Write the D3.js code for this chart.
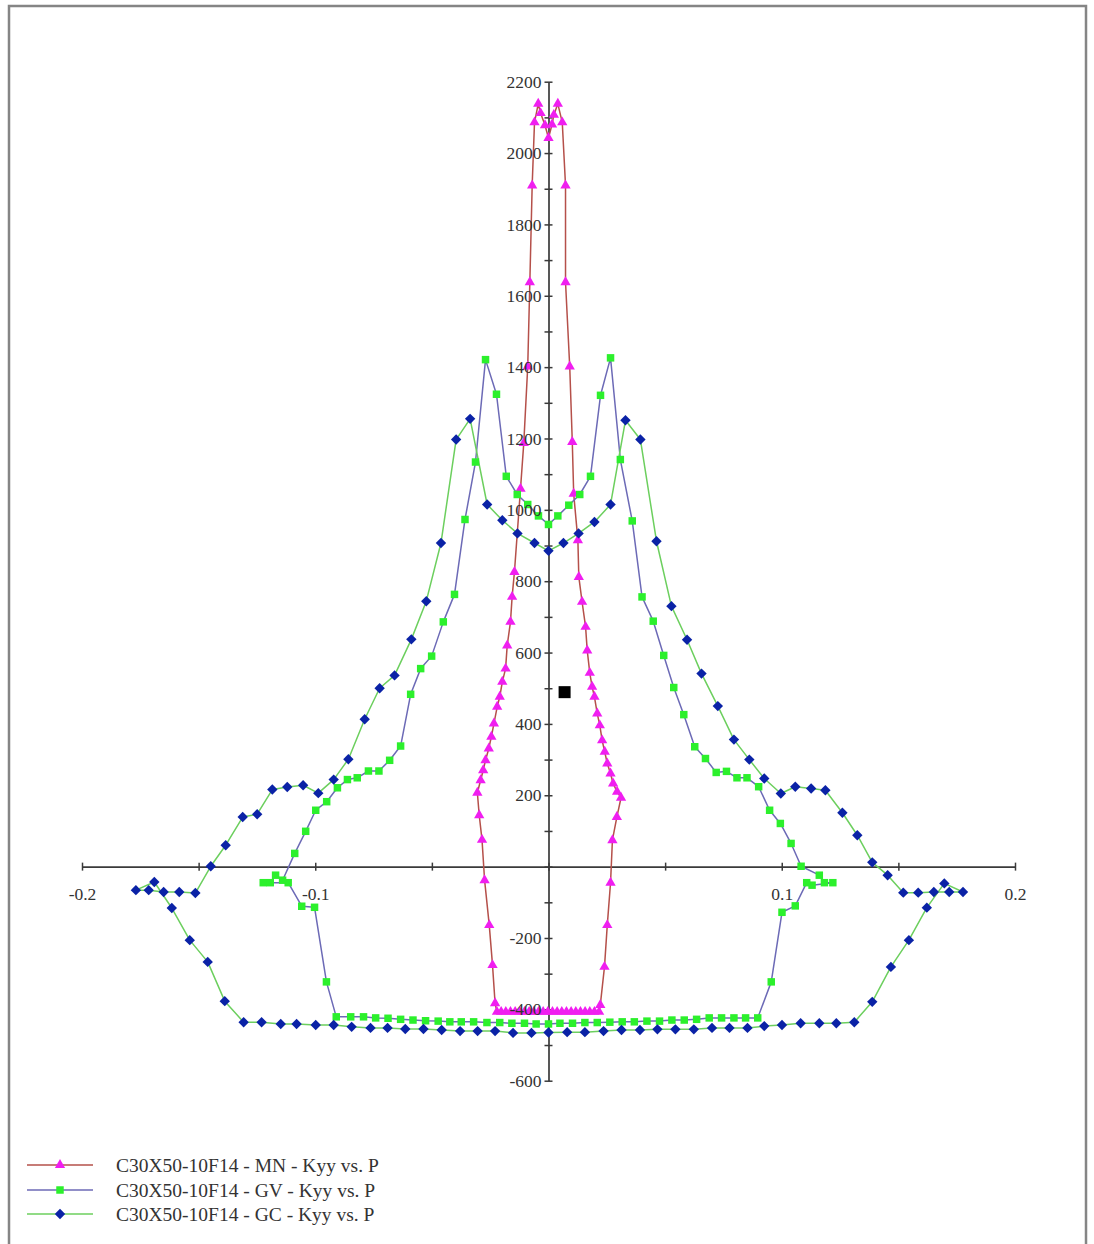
<!DOCTYPE html>
<html>
<head>
<meta charset="utf-8">
<script src="https://cdn.jsdelivr.net/npm/d3@7"></script>
<style>
  html, body { margin: 0; padding: 0; background: #ffffff; }
  svg { display: block; }
  text { font-family: "Liberation Serif", "Times New Roman", serif; }
</style>
</head>
<body>
<svg id="chart" width="1094" height="1244"></svg>
<script>
// ---- Axis ticks -------------------------------------------------------
const xTicks = [-0.2, -0.15, -0.1, -0.05, 0, 0.05, 0.1, 0.15, 0.2];
const xTickLabels = ["-0.2", "", "-0.1", "", "", "", "0.1", "", "0.2"];
const yTicks = [-600, -500, -400, -300, -200, -100, 0, 100, 200, 300, 400, 500, 600, 700, 800,
                900, 1000, 1100, 1200, 1300, 1400, 1500, 1600, 1700, 1800, 1900, 2000, 2100, 2200];
const yTickLabels = [-600, -400, -200, 200, 400, 600, 800, 1000, 1200, 1400, 1600, 1800, 2000, 2200];

// ---- Series: curvature Kyy (x) vs axial load P (y) ----------------------
const seriesNames = [
  "C30X50-10F14 - MN - Kyy vs. P",
  "C30X50-10F14 - GV - Kyy vs. P",
  "C30X50-10F14 - GC - Kyy vs. P"
];

const mnPoints = [
  [-0.0221, -407], [-0.0229, -383], [-0.0240, -276], [-0.0254, -164], [-0.0274, -38],
  [-0.0285, 75], [-0.0297, 144], [-0.0305, 207], [-0.0291, 242], [-0.0280, 270],
  [-0.0270, 298], [-0.0256, 331], [-0.0245, 364], [-0.0234, 401], [-0.0220, 448],
  [-0.0209, 476], [-0.0198, 518], [-0.0184, 555], [-0.0177, 620], [-0.0163, 686],
  [-0.0156, 756], [-0.0146, 826], [-0.0120, 1059], [-0.0106, 1187], [-0.0089, 1402],
  [-0.0080, 1638], [-0.0070, 1909], [-0.0060, 2086], [-0.0044, 2138], [-0.0034, 2112],
  [-0.0015, 2078], [0.0000, 2042], [0.0015, 2080], [0.0023, 2107], [0.0040, 2138],
  [0.0059, 2086], [0.0073, 1909], [0.0073, 1638], [0.0091, 1402], [0.0102, 1190],
  [0.0108, 1045], [0.0126, 915], [0.0130, 812], [0.0144, 742], [0.0159, 672],
  [0.0166, 606], [0.0177, 543], [0.0187, 504], [0.0197, 476], [0.0209, 429],
  [0.0220, 396], [0.0230, 354], [0.0241, 322], [0.0252, 289], [0.0266, 261],
  [0.0277, 233], [0.0294, 210], [0.0311, 193], [0.0293, 139], [0.0274, 74],
  [0.0266, -45], [0.0252, -164], [0.0240, -281], [0.0222, -388], [0.0217, -407],
  [0.0197, -407], [0.0177, -407], [0.0157, -407], [0.0137, -407], [0.0117, -407],
  [0.0097, -407], [0.0077, -407], [0.0057, -407], [0.0037, -407], [0.0017, -407],
  [-0.0003, -407], [-0.0023, -407], [-0.0043, -407], [-0.0063, -407], [-0.0083, -407],
  [-0.0103, -407], [-0.0123, -407], [-0.0143, -407], [-0.0163, -407], [-0.0183, -407],
  [-0.0203, -407]
];

const gvPoints = [
  [0.0000, 959], [0.0040, 983], [0.0087, 1013], [0.0134, 1043], [0.0180, 1094],
  [0.0223, 1321], [0.0266, 1426], [0.0308, 1141], [0.0359, 969], [0.0401, 756],
  [0.0449, 688], [0.0494, 592], [0.0537, 502], [0.0580, 426], [0.0627, 336],
  [0.0673, 303], [0.0719, 264], [0.0763, 267], [0.0808, 249], [0.0851, 249],
  [0.0901, 224], [0.0948, 158], [0.0994, 121], [0.1040, 65], [0.1083, 1],
  [0.1161, -24], [0.1183, -45], [0.1219, -45], [0.1130, -52], [0.1107, -45],
  [0.1058, -110], [0.1001, -128], [0.0955, -323], [0.0897, -424], [0.0845, -424],
  [0.0795, -424], [0.0742, -424], [0.0689, -424], [0.0635, -428], [0.0582, -430],
  [0.0529, -430], [0.0476, -433], [0.0422, -433], [0.0368, -435], [0.0316, -435],
  [0.0263, -436], [0.0209, -437], [0.0156, -437], [0.0103, -439], [0.0049, -439],
  [0.0000, -441], [-0.0053, -441], [-0.0103, -439], [-0.0157, -439], [-0.0209, -437],
  [-0.0264, -437], [-0.0321, -435], [-0.0374, -435], [-0.0423, -435], [-0.0473, -433],
  [-0.0527, -432], [-0.0581, -430], [-0.0634, -428], [-0.0688, -425], [-0.0741, -424],
  [-0.0793, -421], [-0.0848, -421], [-0.0910, -421], [-0.0952, -323], [-0.1003, -114],
  [-0.1058, -111], [-0.1116, -45], [-0.1223, -45], [-0.1193, -45], [-0.1170, -24],
  [-0.1140, -38], [-0.1088, 37], [-0.1041, 99], [-0.0998, 158], [-0.0951, 182],
  [-0.0905, 221], [-0.0862, 244], [-0.0820, 249], [-0.0772, 268], [-0.0727, 268],
  [-0.0681, 298], [-0.0634, 338], [-0.0591, 483], [-0.0548, 555], [-0.0501, 590],
  [-0.0451, 686], [-0.0403, 763], [-0.0358, 973], [-0.0313, 1134], [-0.0270, 1421],
  [-0.0223, 1324], [-0.0181, 1094], [-0.0134, 1043], [-0.0089, 1015], [-0.0043, 983]
];

const gcPoints = [
  [0.0000, 885], [0.0064, 907], [0.0129, 934], [0.0197, 966], [0.0266, 1015],
  [0.0330, 1251], [0.0394, 1197], [0.0463, 912], [0.0527, 730], [0.0594, 636],
  [0.0656, 541], [0.0726, 450], [0.0795, 356], [0.0861, 300], [0.0925, 247],
  [0.0996, 205], [0.1058, 224], [0.1126, 219], [0.1187, 214], [0.1260, 151],
  [0.1324, 88], [0.1388, 12], [0.1454, -24], [0.1521, -73], [0.1585, -73],
  [0.1652, -71], [0.1718, -71], [0.1777, -71], [0.1697, -47], [0.1622, -115],
  [0.1545, -206], [0.1468, -281], [0.1388, -379], [0.1311, -436], [0.1234, -439],
  [0.1161, -439], [0.1081, -439], [0.1001, -444], [0.0925, -447], [0.0853, -452],
  [0.0776, -452], [0.0701, -452], [0.0623, -456], [0.0544, -456], [0.0467, -456],
  [0.0392, -458], [0.0313, -458], [0.0236, -461], [0.0156, -464], [0.0080, -464],
  [0.0000, -465], [-0.0073, -466], [-0.0152, -466], [-0.0229, -461], [-0.0304, -461],
  [-0.0379, -461], [-0.0458, -458], [-0.0536, -455], [-0.0614, -455], [-0.0690, -452],
  [-0.0763, -452], [-0.0844, -449], [-0.0921, -444], [-0.0998, -444], [-0.1080, -441],
  [-0.1148, -441], [-0.1230, -436], [-0.1307, -436], [-0.1388, -377], [-0.1461, -267],
  [-0.1538, -206], [-0.1615, -116], [-0.1690, -43], [-0.1769, -66], [-0.1714, -66],
  [-0.1650, -71], [-0.1583, -71], [-0.1514, -74], [-0.1448, 1], [-0.1384, 60],
  [-0.1311, 139], [-0.1249, 147], [-0.1184, 216], [-0.1120, 223], [-0.1052, 228],
  [-0.0987, 206], [-0.0921, 244], [-0.0858, 301], [-0.0788, 413], [-0.0724, 500],
  [-0.0660, 536], [-0.0588, 637], [-0.0524, 744], [-0.0461, 907], [-0.0396, 1197],
  [-0.0336, 1255], [-0.0263, 1015], [-0.0198, 971], [-0.0133, 934], [-0.0060, 907]
];

// stray point marker
const extraPoints = [[0.0069, 489]];

// ---- Styling per series -----------------------------------------------
const seriesStyle = [
  { data: mnPoints, line: "#b5504a", marker: "#f01ef0", shape: "triangle" },
  { data: gvPoints, line: "#6c6ab6", marker: "#2cf02c", shape: "square" },
  { data: gcPoints, line: "#6ccf5e", marker: "#0a22a6", shape: "diamond" }
];

// ---- Scales ------------------------------------------------------------
const x = d3.scaleLinear().domain([-0.2, 0.2]).range([82, 1015]);
const y = d3.scaleLinear().domain([-600, 2200]).range([1080.7, 81.7]);

const svg = d3.select("#chart");

// outer frame
svg.append("rect")
  .attr("x", 9).attr("y", 6).attr("width", 1077).attr("height", 1270)
  .attr("fill", "none").attr("stroke", "#858585").attr("stroke-width", 2.5);

const AXIS_COLOR = "#3a3a3a";
const FONT = "Liberation Serif, Times New Roman, serif";

function symbolPath(shape) {
  if (shape === "triangle") return d3.symbol().type(d3.symbolTriangle).size(46)();
  if (shape === "square") return d3.symbol().type(d3.symbolSquare).size(56)();
  return d3.symbol().type(d3.symbolSquare).size(54)(); // rotated into a diamond
}
function symbolTransform(shape, px, py) {
  return shape === "diamond"
    ? `translate(${px},${py}) rotate(45)`
    : `translate(${px},${py})`;
}

const xAxis = d3.axisBottom(x).tickValues(xTicks).tickSize(4).tickSizeOuter(0)
  .tickFormat((d, i) => xTickLabels[i]);
const yAxis = d3.axisLeft(y).tickValues(yTicks).tickSize(4).tickSizeOuter(0).tickPadding(3)
  .tickFormat(d => yTickLabels.includes(d) ? String(d) : "");

function styleAxes(gx, gy) {
  [gx, gy].forEach(g => {
    g.attr("font-family", FONT).attr("font-size", 17.5);
    g.select(".domain").attr("stroke", AXIS_COLOR).attr("stroke-width", 1.7);
    g.selectAll(".tick text").attr("fill", "#333333").attr("font-size", 17.5).attr("font-family", FONT);
  });
  gx.selectAll(".tick line").attr("y1", -4).attr("y2", 4)
    .attr("stroke", AXIS_COLOR).attr("stroke-width", 1.5);
  gx.selectAll(".tick text").attr("y", 21);
  gy.selectAll(".tick line").attr("x1", -4).attr("x2", 4)
    .attr("stroke", AXIS_COLOR).attr("stroke-width", 1.5);
}

// axis lines and ticks
const gx = svg.append("g").attr("transform", `translate(0,${y(0)})`).call(xAxis);
const gy = svg.append("g").attr("transform", `translate(${x(0)},0)`).call(yAxis);
styleAxes(gx, gy);
gx.selectAll(".tick text").remove();
gy.selectAll(".tick text").remove();

// series lines
const line = d3.line().x(d => x(d[0])).y(d => y(d[1])).curve(d3.curveLinearClosed);
const plot = svg.append("g");
seriesStyle.forEach(s => {
  plot.append("path")
    .attr("d", line(s.data))
    .attr("fill", "none")
    .attr("stroke", s.line)
    .attr("stroke-width", 1.5)
    .attr("stroke-linejoin", "round");
});

// series markers
seriesStyle.forEach(s => {
  plot.append("g").selectAll("path")
    .data(s.data).join("path")
    .attr("d", symbolPath(s.shape))
    .attr("transform", d => symbolTransform(s.shape, x(d[0]), y(d[1])))
    .attr("fill", s.marker);
});

// black square point
plot.selectAll("rect.extra").data(extraPoints).join("rect")
  .attr("class", "extra")
  .attr("x", d => x(d[0]) - 6).attr("y", d => y(d[1]) - 6)
  .attr("width", 12).attr("height", 12).attr("fill", "#000");

// tick labels on top
const gxl = svg.append("g").attr("transform", `translate(0,${y(0)})`).call(xAxis);
const gyl = svg.append("g").attr("transform", `translate(${x(0)},0)`).call(yAxis);
styleAxes(gxl, gyl);
[gxl, gyl].forEach(g => { g.select(".domain").remove(); g.selectAll(".tick line").remove(); });

// legend
const legend = svg.append("g");
const legendRows = [1165, 1190, 1214];
seriesStyle.forEach((s, i) => {
  const row = legend.append("g").attr("transform", `translate(0,${legendRows[i]})`);
  row.append("line").attr("x1", 27).attr("x2", 93).attr("y1", 0).attr("y2", 0)
    .attr("stroke", s.line).attr("stroke-width", 1.7);
  row.append("path").attr("d", symbolPath(s.shape))
    .attr("transform", symbolTransform(s.shape, 60, 0)).attr("fill", s.marker);
  row.append("text").attr("x", 116).attr("y", 0).attr("dy", "0.35em")
    .attr("font-size", 19.5).attr("fill", "#333333").attr("font-family", FONT)
    .text(seriesNames[i]);
});
</script>
</body>
</html>
